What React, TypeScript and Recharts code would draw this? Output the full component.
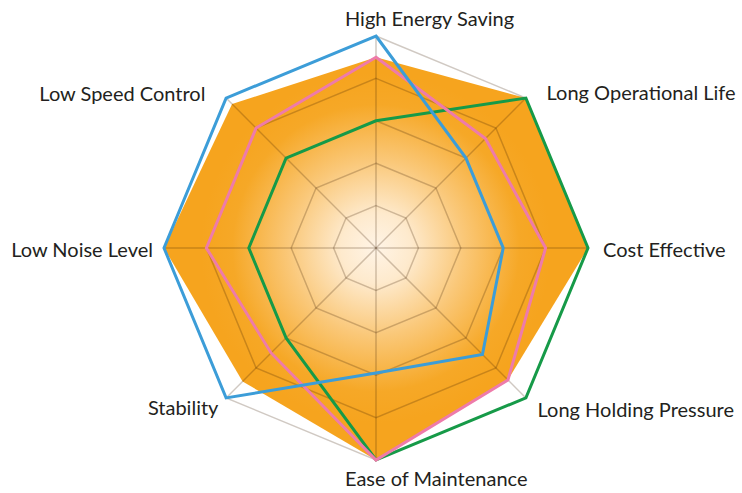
import React from "react";
import {
  PolarAngleAxis,
  PolarGrid,
  PolarRadiusAxis,
  Radar,
  RadarChart,
} from "recharts";

// Axes, clockwise from the top
const categories = [
  "High Energy Saving",
  "Long Operational Life",
  "Cost Effective",
  "Long Holding Pressure",
  "Ease of Maintenance",
  "Stability",
  "Low Noise Level",
  "Low Speed Control",
];

// Series values (0..1 scale)
const orangeValues = [0.9, 1.0, 1.0, 0.88, 1.0, 0.89, 1.0, 0.96];
const blueValues = [1.0, 0.6, 0.6, 0.71, 0.59, 1.0, 1.0, 1.0];
const pinkValues = [0.9, 0.73, 0.8, 0.88, 1.0, 0.7, 0.8, 0.8];
const greenValues = [0.6, 1.0, 1.0, 1.0, 1.0, 0.6, 0.6, 0.6];

// grid rings
const gridTicks = [0.2, 0.4, 0.6, 0.8, 1.0];

const data = categories.map((name, i) => ({
  name,
  orange: orangeValues[i],
  blue: blueValues[i],
  pink: pinkValues[i],
  green: greenValues[i],
}));

const OUTER = 212;

// label nudges relative to the tick point, with text anchor
const labelLayout: { dx: number; dy: number; anchor: "start" | "end" }[] = [
  { dx: -31, dy: -2, anchor: "start" },
  { dx: 15, dy: 8, anchor: "start" },
  { dx: 7, dy: 9, anchor: "start" },
  { dx: 6, dy: 13, anchor: "start" },
  { dx: -31, dy: 18, anchor: "start" },
  { dx: -2, dy: 11, anchor: "end" },
  { dx: -3, dy: 9, anchor: "end" },
  { dx: -15, dy: 9, anchor: "end" },
];

const AxisLabel = (props: any) => {
  const { x, y, payload, index } = props;
  const l = labelLayout[index] || { dx: 0, dy: 0, anchor: "middle" };
  return (
    <text
      x={x + l.dx}
      y={y + l.dy}
      textAnchor={l.anchor}
      fill="#231F20"
      fontSize={20}
      fontFamily="Lato, 'Liberation Sans', sans-serif"
    >
      {payload.value}
    </text>
  );
};

export default function App() {
  return (
    <div style={{ position: "absolute", left: 0, top: 0, background: "#fff" }}>
      <RadarChart
        width={742}
        height={493}
        data={data}
        cx={376}
        cy={248}
        outerRadius={OUTER}
        margin={{ top: 0, right: 0, bottom: 0, left: 0 }}
      >
        <defs>
          <radialGradient
            id="glow"
            gradientUnits="userSpaceOnUse"
            cx={376}
            cy={248}
            r={175}
          >
            <stop offset="0%" stopColor="#FFF4E6" />
            <stop offset="20%" stopColor="#FEEACD" />
            <stop offset="50%" stopColor="#FAC879" />
            <stop offset="82%" stopColor="#F6A827" />
            <stop offset="100%" stopColor="#F6A41E" />
          </radialGradient>
        </defs>
        <PolarRadiusAxis domain={[0, 1]} tickCount={6} tick={false} axisLine={false} />
        <PolarAngleAxis dataKey="name" tick={<AxisLabel />} tickLine={false} axisLine={false} />
        <Radar
          dataKey="orange"
          fill="url(#glow)"
          fillOpacity={1}
          stroke="none"
          isAnimationActive={false}
          zIndex={100}
        />
        <PolarGrid
          gridType="polygon"
          polarRadius={gridTicks.map((t) => t * OUTER)}
          stroke="rgba(60,30,0,0.24)"
          strokeWidth={1.5}
          zIndex={150}
        />
        <Radar
          dataKey="green"
          fill="none"
          fillOpacity={0}
          stroke="#169A48"
          strokeWidth={3}
          isAnimationActive={false}
          zIndex={400}
        />
        <Radar
          dataKey="pink"
          fill="none"
          fillOpacity={0}
          stroke="#EE7BAA"
          strokeWidth={3}
          isAnimationActive={false}
          zIndex={400}
        />
        <Radar
          dataKey="blue"
          fill="none"
          fillOpacity={0}
          stroke="#3C9DD8"
          strokeWidth={3}
          isAnimationActive={false}
          zIndex={400}
        />
      </RadarChart>
    </div>
  );
}
